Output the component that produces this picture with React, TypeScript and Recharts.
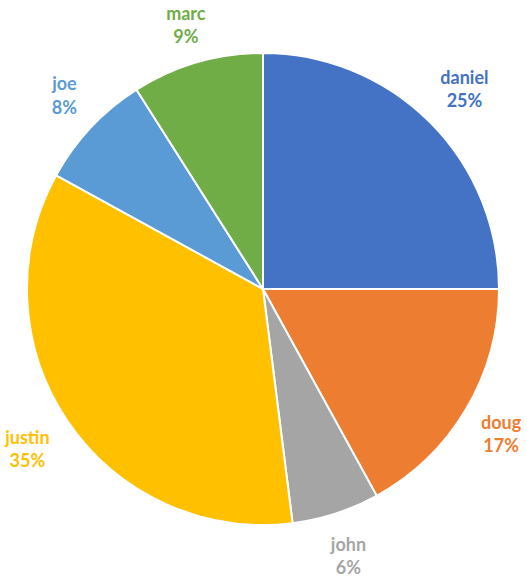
import { Cell, Pie, PieChart } from "recharts";

const names = ["daniel", "doug", "john", "justin", "joe", "marc"];
const shares = [25, 17, 6, 35, 8, 9];
const colors = ["#4472C4", "#ED7D31", "#A5A5A5", "#FFC000", "#5B9BD5", "#70AD47"];

const data = names.map((name, i) => ({ name, value: shares[i] }));

const W = 527;
const H = 580;
const RADIAN = Math.PI / 180;
const LINE = 23.5;

// excel-style: label box sits just outside the pie, pushed out along the mid angle,
// then kept inside the chart area
function renderLabel(props: any) {
  const { cx, cy, midAngle, outerRadius, index } = props;
  const pct = `${shares[index]}%`;
  const w = Math.max(names[index].length, pct.length) * 8.3;
  const h = LINE * 2;
  const cos = Math.cos(-midAngle * RADIAN);
  const sin = Math.sin(-midAngle * RADIAN);
  const r = outerRadius + 24;
  const x = Math.min(Math.max(cx + r * cos + (cos * w) / 2, w / 2 + 2), W - w / 2 - 2);
  const y = Math.min(Math.max(cy + r * sin + (sin * h) / 2, LINE + 1), H - LINE - 1);
  return (
    <text
      x={x}
      y={y}
      fill={colors[index]}
      textAnchor="middle"
      dominantBaseline="central"
      style={{ fontFamily: "Lato, 'Open Sans', sans-serif", fontWeight: 700, fontSize: 18 }}
    >
      <tspan x={x} y={y - LINE / 2}>{names[index]}</tspan>
      <tspan x={x} y={y + LINE / 2}>{pct}</tspan>
    </text>
  );
}

export default function App() {
  return (
    <div style={{ position: "absolute", left: 0, top: 0, width: W, height: H, background: "#fff" }}>
      <style>{`.recharts-pie-sectors { filter: drop-shadow(0 0 3px rgba(0,0,0,0.22)); }`}</style>
      <PieChart width={W} height={H} margin={{ top: 0, right: 0, bottom: 0, left: 0 }}>
        <Pie
          data={data}
          dataKey="value"
          nameKey="name"
          cx={263}
          cy={289}
          outerRadius={236}
          startAngle={90}
          endAngle={-270}
          stroke="#fff"
          strokeWidth={2}
          label={renderLabel}
          labelLine={false}
          isAnimationActive={false}
        >
          {data.map((d, i) => (
            <Cell key={d.name} fill={colors[i]} />
          ))}
        </Pie>
      </PieChart>
    </div>
  );
}
